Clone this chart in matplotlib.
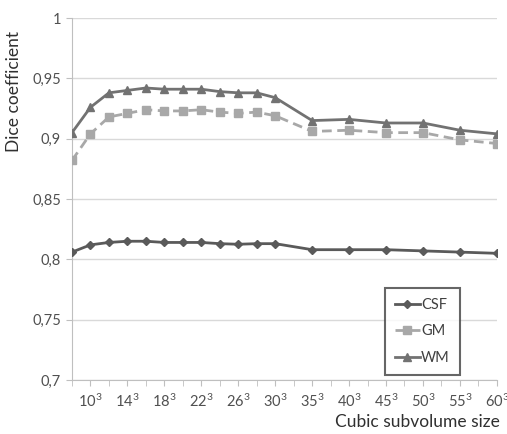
import matplotlib
matplotlib.use("Agg")
import matplotlib.pyplot as plt

sizes = [8, 10, 12, 14, 16, 18, 20, 22, 24, 26, 28, 30, 35, 40, 45, 50, 55, 60]
positions = [0, 1, 2, 3, 4, 5, 6, 7, 8, 9, 10, 11, 13, 15, 17, 19, 21, 23]
label_sizes = [10, 14, 18, 22, 26, 30, 35, 40, 45, 50, 55, 60]
label_positions = [1, 3, 5, 7, 9, 11, 13, 15, 17, 19, 21, 23]

csf = [0.806, 0.812, 0.814, 0.815, 0.815, 0.814, 0.814, 0.814, 0.813, 0.8125, 0.813, 0.813,
       0.808, 0.808, 0.808, 0.807, 0.806, 0.805]
gm = [0.882, 0.904, 0.918, 0.921, 0.924, 0.923, 0.923, 0.924, 0.922, 0.921, 0.922, 0.919,
      0.906, 0.907, 0.905, 0.905, 0.899, 0.896]
wm = [0.905, 0.926, 0.938, 0.940, 0.942, 0.941, 0.941, 0.941, 0.939, 0.938, 0.938, 0.934,
      0.915, 0.916, 0.913, 0.913, 0.907, 0.904]

plt.rcParams['font.family'] = ['Lato', 'DejaVu Sans']

fig = plt.figure(figsize=(5.07, 4.34), dpi=100)
ax = fig.add_axes([0.142, 0.1244, 0.838, 0.8341])

ax.plot(positions, csf, color='#5a5a5a', lw=2.0, marker='D', ms=4.5, label='CSF', zorder=3)
ax.plot(positions, gm, color='#a8a8a8', lw=2.0, ls=(0, (3.5, 2)), marker='s', ms=6, label='GM', zorder=3)
ax.plot(positions, wm, color='#727272', lw=2.0, marker='^', ms=5.5, label='WM', zorder=3)

ax.set_xlim(0, 23)
ax.set_ylim(0.7, 1.0)
ax.set_yticks([0.7, 0.75, 0.8, 0.85, 0.9, 0.95, 1.0])
ax.set_yticklabels(['0,7', '0,75', '0,8', '0,85', '0,9', '0,95', '1'])
ax.set_xticks(label_positions)
ax.set_xticklabels([r'$\mathregular{%d^3}$' % s for s in label_sizes])
ax.set_xticks(range(0, 24), minor=True)
ax.tick_params(axis='x', which='both', length=4, color='#bfbfbf', direction='out', pad=5,
               labelsize=10.5, labelcolor='#505050')
ax.tick_params(axis='y', length=4, color='#bfbfbf', labelsize=10.5, labelcolor='#505050', pad=4)

ax.grid(axis='y', color='#d9d9d9', lw=1)
ax.set_axisbelow(True)
for s in ['top', 'right']:
    ax.spines[s].set_visible(False)
ax.spines['left'].set_color('#bfbfbf')
ax.spines['bottom'].set_color('#bfbfbf')

fig.text(0.028, 0.79, 'Dice coefficient', rotation=90, ha='center', va='center',
         fontsize=12.5, color='#303030')
fig.text(0.985, 0.027, 'Cubic subvolume size', ha='right', va='center',
         fontsize=12.5, color='#303030')

leg = ax.legend(loc='lower left', bbox_to_anchor=(0.736, 0.014), borderaxespad=0,
                frameon=True, fancybox=False,
                handlelength=1.7, handletextpad=0.1, borderpad=0.7, labelspacing=0.85,
                fontsize=10.5, edgecolor='#404040')
leg.get_frame().set_linewidth(1.5)
for t in leg.get_texts():
    t.set_color('#404040')

fig.savefig('out.png', dpi=100)
